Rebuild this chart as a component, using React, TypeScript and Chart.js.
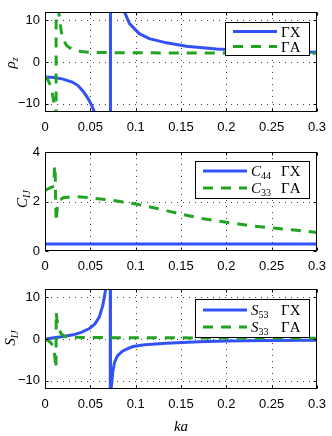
import React, { useEffect, useRef } from "react";
import { Chart, registerables } from "chart.js";

Chart.register(...registerables);

// ---------- shared axis data ----------
const xTicks = [0, 0.05, 0.1, 0.15, 0.2, 0.25, 0.3];
const xTickLabels = ["0", "0.05", "0.1", "0.15", "0.2", "0.25", "0.3"];

const rhoTicks = [-10, 0, 10];
const rhoTickLabels = ["\u221210", "0", "10"];
const cTicks = [0, 2, 4];
const cTickLabels = ["0", "2", "4"];
const sTicks = [-10, 0, 10];
const sTickLabels = ["\u221210", "0", "10"];

// ---------- panel 1: rho_z ----------
const kaRhoGX = [0, 0.01, 0.02, 0.03, 0.036, 0.042, 0.047, 0.051, 0.0545, 0.06, 0.066, 0.0718, 0.0722, 0.078, 0.084, 0.0877, 0.0932, 0.104, 0.115, 0.134, 0.156, 0.189, 0.226, 0.262, 0.3];
const rhoGX = [-3.6, -3.7, -4.1, -4.8, -5.6, -7.0, -8.6, -10.2, -12, -17, -32, -300, 300, 30, 16, 12, 9.2, 6.8, 5.6, 4.6, 3.8, 3.1, 2.75, 2.5, 2.35];
const kaRhoGA = [0, 0.003, 0.006, 0.008, 0.01, 0.0112, 0.0118, 0.0121, 0.0124, 0.013, 0.014, 0.0152, 0.018, 0.021, 0.024, 0.03, 0.04, 0.05, 0.1, 0.2, 0.3];
const rhoGA = [-3.5, -4.2, -5.6, -7.5, -10, -14, -40, -300, 300, 40, 18, 12, 7.2, 5.0, 3.9, 3.0, 2.5, 2.3, 2.2, 2.15, 2.1];

// ---------- panel 2: C_IJ ----------
const kaC44 = [0, 0.1, 0.2, 0.3];
const c44 = [0.28, 0.28, 0.28, 0.28];
const kaC33 = [0, 0.004, 0.0086, 0.0098, 0.0106, 0.0113, 0.0118, 0.0123, 0.0135, 0.016, 0.02, 0.03, 0.04, 0.05, 0.075, 0.1, 0.125, 0.15, 0.175, 0.2, 0.225, 0.25, 0.275, 0.3];
const c33 = [2.45, 2.52, 2.6, 2.75, 3.45, 3.1, 2.0, 1.2, 1.75, 2.05, 2.15, 2.2, 2.18, 2.15, 2.04, 1.9, 1.71, 1.49, 1.3, 1.16, 1.03, 0.93, 0.85, 0.75];

// ---------- panel 3: S_IJ ----------
const kaS53 = [0, 0.01, 0.02, 0.031, 0.04, 0.049, 0.055, 0.06, 0.0638, 0.0664, 0.0675, 0.069, 0.0718, 0.0722, 0.073, 0.0748, 0.0767, 0.08, 0.085, 0.09, 0.097, 0.11, 0.134, 0.17, 0.2, 0.244, 0.3];
const s53 = [0, 0.3, 0.6, 1.0, 1.6, 2.5, 3.6, 5.3, 8.1, 11.3, 13, 20, 300, -300, -12, -7.8, -5.6, -4.0, -3.0, -2.4, -1.8, -1.4, -1.0, -0.65, -0.5, -0.35, -0.3];
const kaS33 = [0, 0.003, 0.006, 0.0086, 0.0097, 0.011, 0.0121, 0.0124, 0.013, 0.0149, 0.018, 0.022, 0.03, 0.05, 0.1, 0.2, 0.3];
const s33 = [0, -0.3, -0.8, -1.5, -2.3, -4.5, -7, 6.4, 5.0, 2.5, 1.2, 0.6, 0.45, 0.35, 0.3, 0.25, 0.2];

const BLUE = "#3352f5";
const GREEN = "#22a322";
const DASH = [10, 8];
const SERIF = '"Liberation Serif", "DejaVu Serif", serif';
const SANS = '"Liberation Sans", Arial, sans-serif';

type Part = { t: string; it?: boolean; sub?: boolean };

function drawRich(ctx: CanvasRenderingContext2D, parts: Part[], x: number, y: number, size: number, align: "left" | "center") {
  const fontFor = (p: Part) => `${p.it ? "italic " : ""}${p.sub ? Math.round(size * 0.68) : size}px ${SERIF}`;
  let total = 0;
  const widths = parts.map((p) => {
    ctx.font = fontFor(p);
    const w = ctx.measureText(p.t).width;
    total += w;
    return w;
  });
  let cx = align === "center" ? x - total / 2 : x;
  const base = y + size * 0.34;
  ctx.textAlign = "left";
  ctx.textBaseline = "alphabetic";
  ctx.fillStyle = "#000";
  parts.forEach((p, i) => {
    ctx.font = fontFor(p);
    ctx.fillText(p.t, cx, p.sub ? base + size * 0.22 : base);
    cx += widths[i];
  });
}

type LegendRow = { color: string; dash: number[]; y: number; labels: { x: number; parts: Part[] }[] };
type LegendSpec = { box: [number, number, number, number]; line: [number, number]; rows: LegendRow[] };
type TitleSpec = { x: number; y: number; parts: Part[]; rotate: boolean };

type SubProps = {
  top: number;
  height: number;
  areaTop: number;
  areaBottom: number;
  yMin: number;
  yMax: number;
  yTicks: number[];
  yTickLabels: string[];
  series: { ka: number[]; val: number[]; color: string; dash: number[]; order: number }[];
  legend: LegendSpec;
  titles: TitleSpec[];
};

function SubChart(props: SubProps) {
  const ref = useRef<HTMLCanvasElement | null>(null);
  useEffect(() => {
    const canvas = ref.current;
    if (!canvas) return;
    const { height, areaTop, areaBottom, yMin, yMax, yTicks, yTickLabels, series, legend, titles } = props;

    const decor = {
      id: "decor",
      beforeDatasetsDraw(chart: any) {
        const { ctx, chartArea: a, scales } = chart;
        const xs = scales.x;
        const ys = scales.y;
        ctx.save();
        ctx.strokeStyle = "#444";
        ctx.lineWidth = 1;
        ctx.setLineDash([1, 5]);
        for (const v of xTicks) {
          const px = Math.round(xs.getPixelForValue(v)) + 0.5;
          if (px <= a.left + 2 || px >= a.right - 2) continue;
          ctx.beginPath();
          ctx.moveTo(px, a.top);
          ctx.lineTo(px, a.bottom);
          ctx.stroke();
        }
        for (const v of yTicks) {
          const py = Math.round(ys.getPixelForValue(v)) + 0.5;
          if (py <= a.top + 2 || py >= a.bottom - 2) continue;
          ctx.beginPath();
          ctx.moveTo(a.left, py);
          ctx.lineTo(a.right, py);
          ctx.stroke();
        }
        ctx.restore();
      },
      afterDatasetsDraw(chart: any) {
        const { ctx, chartArea: a, scales } = chart;
        const xs = scales.x;
        const ys = scales.y;
        ctx.save();
        ctx.setLineDash([]);
        ctx.strokeStyle = "#000";
        ctx.lineWidth = 1;
        const L = Math.round(a.left) + 0.5;
        const R = Math.round(a.right) - 0.5;
        const T = Math.round(a.top) + 0.5;
        const B = Math.round(a.bottom) - 0.5;
        ctx.strokeRect(L, T, R - L, B - T);
        const tl = 3;
        ctx.beginPath();
        for (const v of xTicks) {
          const px = Math.round(xs.getPixelForValue(v)) + 0.5;
          ctx.moveTo(px, B);
          ctx.lineTo(px, B - tl);
          ctx.moveTo(px, T);
          ctx.lineTo(px, T + tl);
        }
        for (const v of yTicks) {
          const py = Math.round(ys.getPixelForValue(v)) + 0.5;
          ctx.moveTo(L, py);
          ctx.lineTo(L + tl, py);
          ctx.moveTo(R, py);
          ctx.lineTo(R - tl, py);
        }
        ctx.stroke();

        // legend
        const [bx0, by0, bx1, by1] = legend.box;
        ctx.fillStyle = "#fff";
        ctx.fillRect(bx0, by0, bx1 - bx0, by1 - by0);
        ctx.strokeStyle = "#000";
        ctx.strokeRect(bx0 + 0.5, by0 + 0.5, bx1 - bx0 - 1, by1 - by0 - 1);
        for (const row of legend.rows) {
          ctx.save();
          ctx.strokeStyle = row.color;
          ctx.lineWidth = 3;
          ctx.setLineDash(row.dash);
          ctx.beginPath();
          ctx.moveTo(legend.line[0], row.y);
          ctx.lineTo(legend.line[1], row.y);
          ctx.stroke();
          ctx.restore();
          for (const lab of row.labels) drawRich(ctx, lab.parts, lab.x, row.y, 15, "left");
        }

        // titles
        for (const t of titles) {
          ctx.save();
          ctx.translate(t.x, t.y);
          if (t.rotate) ctx.rotate(-Math.PI / 2);
          drawRich(ctx, t.parts, 0, 0, 15, "center");
          ctx.restore();
        }
        ctx.restore();
      },
    };

    const chart = new Chart(canvas, {
      type: "line",
      data: {
        datasets: series.map((s) => ({
          data: s.ka.map((x, i) => ({ x, y: s.val[i] })),
          borderColor: s.color,
          borderWidth: 3,
          borderDash: s.dash,
          pointRadius: 0,
          fill: false,
          tension: 0,
          clip: 0,
          order: s.order,
        })),
      },
      options: {
        animation: false,
        responsive: false,
        maintainAspectRatio: false,
        events: [],
        layout: { padding: { left: 0, right: 15, top: areaTop, bottom: 0 } },
        plugins: { legend: { display: false }, tooltip: { enabled: false }, title: { display: false } },
        scales: {
          x: {
            type: "linear",
            min: 0,
            max: 0.3,
            grid: { display: false, drawTicks: false },
            border: { display: false },
            afterBuildTicks: (s: any) => {
              s.ticks = xTicks.map((v) => ({ value: v }));
            },
            afterFit: (s: any) => {
              s.height = height - areaBottom;
              s.paddingLeft = 0;
              s.paddingRight = 0;
            },
            ticks: {
              autoSkip: false,
              maxRotation: 0,
              padding: 8,
              color: "#000",
              font: { family: SANS, size: 13 },
              callback: (_v: any, i: number) => xTickLabels[i],
            },
          },
          y: {
            type: "linear",
            min: yMin,
            max: yMax,
            grid: { display: false, drawTicks: false },
            border: { display: false },
            afterBuildTicks: (s: any) => {
              s.ticks = yTicks.map((v) => ({ value: v }));
            },
            afterFit: (s: any) => {
              s.width = 45;
              s.paddingTop = 0;
              s.paddingBottom = 0;
            },
            ticks: {
              autoSkip: false,
              padding: 5,
              color: "#000",
              font: { family: SANS, size: 13 },
              callback: (_v: any, i: number) => yTickLabels[i],
            },
          },
        },
      } as any,
      plugins: [decor as any],
    });
    return () => chart.destroy();
  }, []);
  return (
    <canvas
      ref={ref}
      width={332}
      height={props.height}
      style={{ position: "absolute", left: 0, top: props.top, width: 332, height: props.height }}
    />
  );
}

export default function App() {
  return (
    <div style={{ position: "fixed", left: 0, top: 0, width: 332, height: 436, background: "#fff" }}>
      <SubChart
        top={0}
        height={140}
        areaTop={12}
        areaBottom={112}
        yMin={-12}
        yMax={12}
        yTicks={rhoTicks}
        yTickLabels={rhoTickLabels}
        series={[
          { ka: kaRhoGX, val: rhoGX, color: BLUE, dash: [], order: 1 },
          { ka: kaRhoGA, val: rhoGA, color: GREEN, dash: DASH, order: 0 },
        ]}
        legend={{
          box: [225, 22, 310, 56],
          line: [233, 277],
          rows: [
            { color: BLUE, dash: [], y: 31.5, labels: [{ x: 281, parts: [{ t: "\u0393X" }] }] },
            { color: GREEN, dash: DASH, y: 46.5, labels: [{ x: 281, parts: [{ t: "\u0393A" }] }] },
          ],
        }}
        titles={[{ x: 10, y: 63, rotate: true, parts: [{ t: "\u03c1", it: true }, { t: "z", it: true, sub: true }] }]}
      />
      <SubChart
        top={140}
        height={145}
        areaTop={12}
        areaBottom={111}
        yMin={0}
        yMax={4}
        yTicks={cTicks}
        yTickLabels={cTickLabels}
        series={[
          { ka: kaC44, val: c44, color: BLUE, dash: [], order: 1 },
          { ka: kaC33, val: c33, color: GREEN, dash: DASH, order: 0 },
        ]}
        legend={{
          box: [195, 21, 310, 59],
          line: [203, 247],
          rows: [
            {
              color: BLUE,
              dash: [],
              y: 31,
              labels: [
                { x: 251, parts: [{ t: "C", it: true }, { t: "44", sub: true }] },
                { x: 281, parts: [{ t: "\u0393X" }] },
              ],
            },
            {
              color: GREEN,
              dash: DASH,
              y: 48,
              labels: [
                { x: 251, parts: [{ t: "C", it: true }, { t: "33", sub: true }] },
                { x: 281, parts: [{ t: "\u0393A" }] },
              ],
            },
          ],
        }}
        titles={[{ x: 21.5, y: 59, rotate: true, parts: [{ t: "C", it: true }, { t: "IJ", it: true, sub: true }] }]}
      />
      <SubChart
        top={285}
        height={151}
        areaTop={4}
        areaBottom={104}
        yMin={-12}
        yMax={12}
        yTicks={sTicks}
        yTickLabels={sTickLabels}
        series={[
          { ka: kaS53, val: s53, color: BLUE, dash: [], order: 1 },
          { ka: kaS33, val: s33, color: GREEN, dash: DASH, order: 0 },
        ]}
        legend={{
          box: [195, 14, 310, 53],
          line: [203, 247],
          rows: [
            {
              color: BLUE,
              dash: [],
              y: 25,
              labels: [
                { x: 251, parts: [{ t: "S", it: true }, { t: "53", sub: true }] },
                { x: 281, parts: [{ t: "\u0393X" }] },
              ],
            },
            {
              color: GREEN,
              dash: DASH,
              y: 42,
              labels: [
                { x: 251, parts: [{ t: "S", it: true }, { t: "33", sub: true }] },
                { x: 281, parts: [{ t: "\u0393A" }] },
              ],
            },
          ],
        }}
        titles={[
          { x: 9.5, y: 53, rotate: true, parts: [{ t: "S", it: true }, { t: "IJ", it: true, sub: true }] },
          { x: 181, y: 141, rotate: false, parts: [{ t: "ka", it: true }] },
        ]}
      />
    </div>
  );
}
